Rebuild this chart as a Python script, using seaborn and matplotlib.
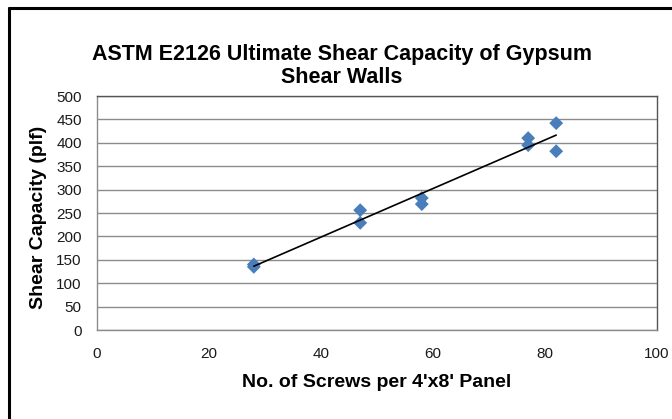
import matplotlib
matplotlib.use("Agg")
import matplotlib.pyplot as plt
from matplotlib.lines import Line2D
import seaborn as sns
import pandas as pd

# Data
screws = [28, 28, 47, 47, 58, 58, 77, 77, 82, 82]
shear_capacity = [135, 140, 256, 229, 282, 269, 410, 395, 442, 382]
x_ticks = [0, 20, 40, 60, 80, 100]
y_ticks = [0, 50, 100, 150, 200, 250, 300, 350, 400, 450, 500]

df = pd.DataFrame({"screws": screws, "shear": shear_capacity})

sns.set_style("white")
plt.rcParams["font.family"] = ["Liberation Sans", "DejaVu Sans"]

W, H = 672, 419
fig = plt.figure(figsize=(W / 100, H / 100), dpi=100)
ax = fig.add_axes([97 / W, 1 - 330 / H, (657 - 97) / W, (330 - 96) / H])

sns.regplot(data=df, x="screws", y="shear", ax=ax, ci=None, marker="D",
            scatter_kws={"s": 50, "color": "#4A7EBB", "edgecolor": "none", "alpha": 1, "zorder": 3},
            line_kws={"color": "black", "lw": 1.2, "zorder": 4})

ax.set_xlim(0, 100)
ax.set_ylim(0, 500)
ax.set_xticks(x_ticks)
ax.set_yticks(y_ticks)
ax.yaxis.grid(True, color="#8c8c8c", lw=1)
ax.set_axisbelow(True)

for side in ["left", "bottom"]:
    ax.spines[side].set_color("#8c8c8c")
for side in ["top", "right"]:
    ax.spines[side].set_color("#555555")
for s in ax.spines.values():
    s.set_linewidth(1)

ax.tick_params(axis="y", direction="out", length=4, width=1, color="#8c8c8c",
               labelsize=11, labelcolor="#1a1a1a", pad=7)
ax.tick_params(axis="x", direction="out", length=4, width=1, color="#8c8c8c",
               labelsize=11, labelcolor="#1a1a1a", pad=8)
ax.set_xlabel("")
ax.set_ylabel("")

# title and axis titles placed like the Excel chart
fig.text(342 / W, 1 - 66 / H, "ASTM E2126 Ultimate Shear Capacity of Gypsum\nShear Walls",
         fontsize=15.5, fontweight="bold", color="black", ha="center", va="center",
         linespacing=1.12)
fig.text(377 / W, 1 - 382 / H, "No. of Screws per 4'x8' Panel", fontsize=14,
         fontweight="bold", color="black", ha="center", va="center")
fig.text(39 / W, 1 - 217 / H, "Shear Capacity (plf)", fontsize=14, fontweight="bold",
         color="black", ha="center", va="center", rotation=90)

# outer chart border (left and top edges visible)
fig.add_artist(Line2D([9 / W, 9 / W], [0, 1 - 8 / H], color="black", lw=2.2))
fig.add_artist(Line2D([9 / W, 1], [1 - 8 / H, 1 - 8 / H], color="black", lw=2.2))

fig.savefig("out.png", dpi=100)
